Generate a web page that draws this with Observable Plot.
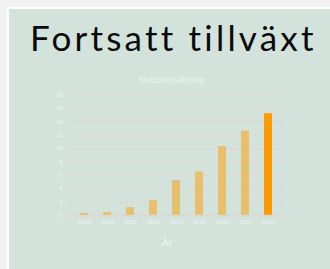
<!DOCTYPE html>
<html>
<head>
<meta charset="utf-8">
<script src="https://cdn.jsdelivr.net/npm/d3@7"></script>
<script src="https://cdn.jsdelivr.net/npm/@observablehq/plot@0.6"></script>
<style>
  html, body { margin: 0; padding: 0; width: 330px; height: 269px; overflow: hidden; background: #f2f2f2; }
  #panel { position: absolute; left: 7px; top: 7px; width: 330px; height: 270px; background: #d3e3dc; border: 2px solid #ffffff; }
  #title { position: absolute; left: 30px; top: 17px; font-family: Lato, sans-serif; font-size: 35px; color: #0a0a0a; line-height: 40px; white-space: nowrap; letter-spacing: 3.2px; }
  #subtitle { position: absolute; left: 0; top: 75px; width: 343px; text-align: center; font-family: Lato, sans-serif; font-size: 9px; color: rgba(255,255,255,0.55); line-height: 10px; }
  #chart { position: absolute; left: 0; top: 0; }
  #xlabel { position: absolute; left: 0; top: 236px; width: 334px; text-align: center; font-family: Lato, sans-serif; font-size: 10px; color: rgba(255,255,255,0.7); line-height: 12px; }
</style>
</head>
<body>
<div id="panel"></div>
<div id="title">Fortsatt tillväxt</div>
<div id="subtitle">Nettoomsättning</div>
<div id="chart"></div>
<div id="xlabel">År</div>
<script>
const years = ["2013","2014","2015","2016","2017","2018","2019","2020","2021"];
const values = [0.3, 0.45, 1.2, 2.2, 5.2, 6.5, 10.3, 12.6, 15.2];
const yTicks = [0, 2, 4, 6, 8, 10, 12, 14, 16, 18];
const highlightYear = "2021";

const data = years.map((y, i) => ({year: y, value: values[i]}));

const gridColor = "#dcd8d0";
const labelColor = "rgba(255,255,255,0.65)";

const chart = Plot.plot({
  width: 330,
  height: 269,
  marginLeft: 68,
  marginRight: 47,
  marginTop: 94.5,
  marginBottom: 54,
  style: {background: "transparent", fontFamily: "Lato, sans-serif", fontSize: "5.5px", color: labelColor},
  x: {domain: years, type: "band", paddingInner: 2/3, paddingOuter: 1/3, label: null},
  y: {domain: [0, 18], label: null},
  marks: [
    Plot.gridY(yTicks, {stroke: gridColor, strokeOpacity: 1, strokeWidth: 1}),
    Plot.barY(data, {x: "year", y: "value", fill: d => d.year === highlightYear ? "#ff9900" : "#e8bf6c"}),
    Plot.ruleY([0], {stroke: gridColor, strokeOpacity: 0.6, strokeWidth: 2}),
    Plot.axisY(yTicks, {tickSize: 0, tickPadding: 6, fill: labelColor, label: null}),
    Plot.axisX({tickSize: 0, tickPadding: 5, fill: labelColor, label: null})
  ]
});
document.getElementById("chart").appendChild(chart);
</script>
</body>
</html>
